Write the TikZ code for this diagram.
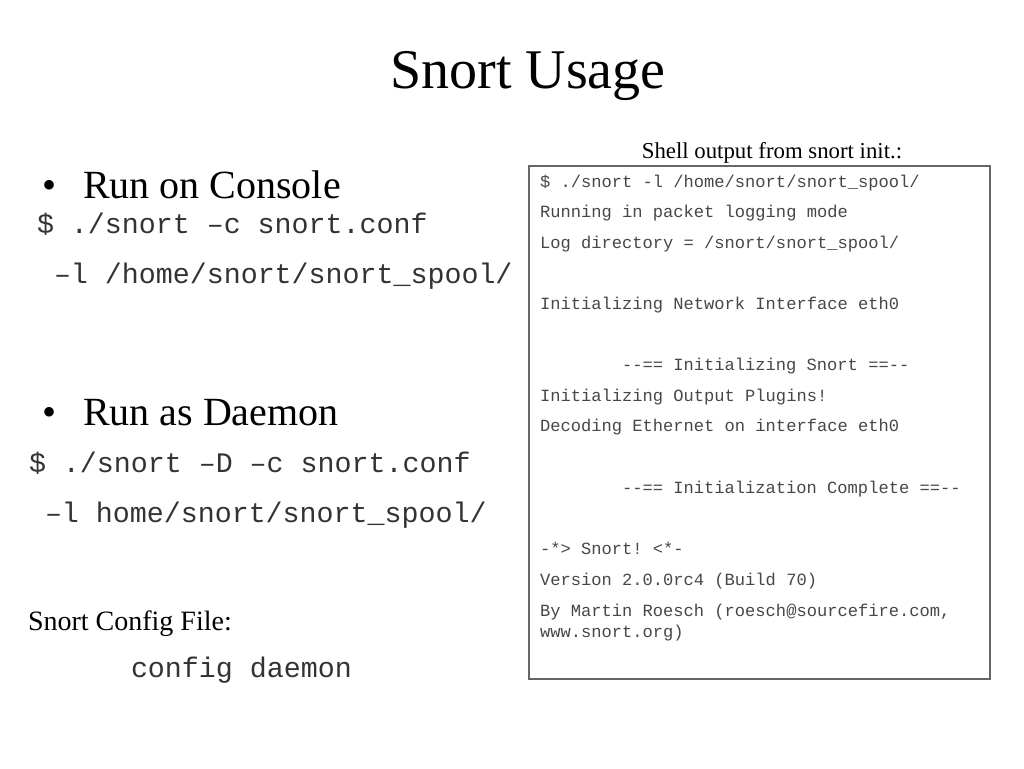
\documentclass[tikz,border=0pt]{standalone}
\usepackage{fontspec}
\setmainfont{Liberation Serif}
\setmonofont{Liberation Mono}
\begin{document}
\begin{tikzpicture}[x=1pt,y=-1pt,
  txt/.style={anchor=base west,inner sep=0pt,outer sep=0pt},
  titlef/.style={txt,anchor=base,font=\fontsize{56}{60}\selectfont},
  bulletf/.style={txt,font=\fontsize{40}{44}\selectfont},
  cmd/.style={txt,font=\fontsize{28.3}{32}\selectfont\ttfamily,text=black!80},
  captxt/.style={txt,font=\fontsize{28}{32}\selectfont},
  shellcap/.style={txt,anchor=base,font=\fontsize{22.8}{26}\selectfont},
  shell/.style={txt,font=\fontsize{17.1}{20}\selectfont\ttfamily,text=black!72},
  boxline/.style={draw=black!60,line width=1.3pt,fill=white}]
\useasboundingbox (0,0) rectangle (1024,768);
\fill[white] (0,0) rectangle (1024,768);

\node[titlef] (title) at (528,88) {Snort Usage};

\node[bulletf] (b1) at (42,198) {\textbullet};
\node[bulletf] (h1) at (83,198) {Run on Console};
\node[cmd] (c1) at (37,233) {\$ ./snort –c snort.conf};
\node[cmd] (c2) at (54,283) {–l /home/snort/snort\_spool/};

\node[bulletf] (b2) at (42,425) {\textbullet};
\node[bulletf] (h2) at (83,425) {Run as Daemon};
\node[cmd] (d1) at (29,472) {\$ ./snort –D –c snort.conf};
\node[cmd] (d2) at (45,522) {–l home/snort/snort\_spool/};

\node[captxt] (cf) at (28,630) {Snort Config File:};
\node[cmd] (cd) at (131,677) {config daemon};

\node[shellcap] (sc) at (772,158) {Shell output from snort init.:};
\draw[boxline] (529,166) rectangle (990,679);
\node[shell] (s1) at (540,187) {\$ ./snort -l /home/snort/snort\_spool/};
\node[shell] (s2) at (540,217.5) {Running in packet logging mode};
\node[shell] (s3) at (540,248) {Log directory = /snort/snort\_spool/};
\node[shell] (s4) at (540,309) {Initializing Network Interface eth0};
\node[shell] (s5) at (622,370) {--== Initializing Snort ==--};
\node[shell] (s6) at (540,401) {Initializing Output Plugins!};
\node[shell] (s7) at (540,431.5) {Decoding Ethernet on interface eth0};
\node[shell] (s8) at (622,493) {--== Initialization Complete ==--};
\node[shell] (s9) at (540,554.5) {-*> Snort! <*-};
\node[shell] (s10) at (540,585.5) {Version 2.0.0rc4 (Build 70)};
\node[shell] (s11) at (540,616) {By Martin Roesch (roesch@sourcefire.com,};
\node[shell] (s12) at (540,637) {www.snort.org)};
\end{tikzpicture}
\end{document}
